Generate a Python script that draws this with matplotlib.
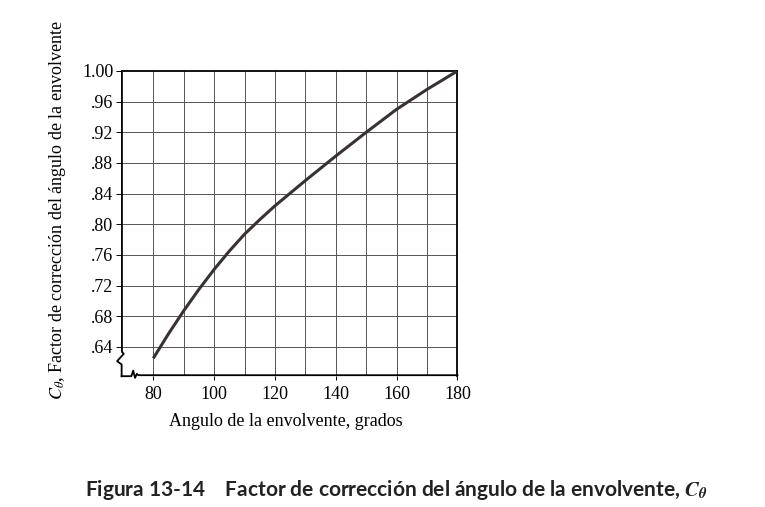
import matplotlib
matplotlib.use("Agg")
import matplotlib.pyplot as plt

plt.rcParams['font.family'] = ['Liberation Serif', 'DejaVu Serif']
plt.rcParams['mathtext.fontset'] = 'stix'

# Curve
angle = [80, 85, 90, 95, 100, 105, 110, 115, 120, 130, 140, 150, 160, 170, 180]
c_theta = [0.625, 0.657, 0.687, 0.715, 0.741, 0.765, 0.787, 0.806, 0.824,
           0.857, 0.889, 0.920, 0.950, 0.976, 1.000]

x_ticks = [80, 100, 120, 140, 160, 180]
x_grid = [80, 90, 100, 110, 120, 130, 140, 150, 160, 170]
y_ticks = [0.64, 0.68, 0.72, 0.76, 0.80, 0.84, 0.88, 0.92, 0.96, 1.00]
y_labels = ['.64', '.68', '.72', '.76', '.80', '.84', '.88', '.92', '.96', '1.00']

xlo, ylo = 69.6, 0.6017

fig = plt.figure(figsize=(7.65, 5.07), dpi=100)
ax = fig.add_axes([0.159, 0.258, 0.439, 0.602])
ax.set_xlim(xlo, 180)
ax.set_ylim(ylo, 1.0)

# grid
for x in x_grid:
    ax.axvline(x, color='#555555', lw=0.7, zorder=1)
for y in y_ticks[:-1]:
    ax.axhline(y, color='#555555', lw=0.7, zorder=1)

ax.plot(angle, c_theta, color='#3a3230', lw=2.2, solid_capstyle='butt',
        solid_joinstyle='round', zorder=3)

# frame with axis breaks
ax.spines['left'].set_visible(False)
ax.spines['bottom'].set_visible(False)
ax.spines['top'].set_linewidth(1.3)
ax.spines['right'].set_linewidth(1.3)
left_x = [69.7, 69.7, 70.3, 68.1, 69.6, 69.6]
left_y = [1.0, 0.6335, 0.6309, 0.6213, 0.617, ylo]
ax.plot(left_x, left_y, color='black', lw=1.3, clip_on=False, zorder=4)
bot_x = [69.6, 72.8, 73.4, 74.0, 74.6, 75.1, 180]
bot_y = [ylo, ylo, 0.609, 0.5995, 0.6047, 0.603, 0.603]
ax.plot(bot_x, bot_y, color='black', lw=1.3, clip_on=False, zorder=4)

ax.set_xticks(x_ticks)
ax.set_xticklabels([str(v) for v in x_ticks])
ax.set_yticks(y_ticks)
ax.set_yticklabels(y_labels)
ax.tick_params(axis='y', direction='out', length=4, width=0.7, pad=2, labelsize=13)
ax.tick_params(axis='x', direction='out', length=3, width=0.7, pad=4, labelsize=13)

fig.text(0.374, 1 - 422 / 507, 'Angulo de la envolvente, grados',
         ha='center', va='center', fontsize=13)
fig.text(58 / 765, 1 - 210 / 507,
         r'$C_{\theta}$, Factor de corrección del ángulo de la envolvente',
         rotation=90, ha='center', va='center', fontsize=13)

fig.text(85 / 765, 1 - 490 / 507,
         'Figura 13-14    Factor de corrección del ángulo de la envolvente, '
         r'$\mathbfit{C}_{\mathbfit{\theta}}$',
         ha='left', va='center', fontsize=15, fontweight='bold',
         family=['Lato', 'DejaVu Sans'], color='#222222')

fig.savefig('out.png', dpi=100, facecolor='white')
